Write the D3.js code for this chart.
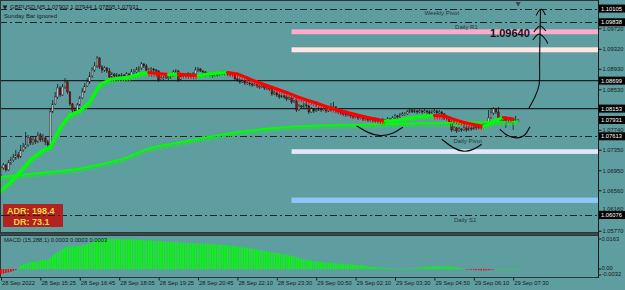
<!DOCTYPE html>
<html>
<head>
<meta charset="utf-8">
<script src="https://cdn.jsdelivr.net/npm/d3@7"></script>
<style>
  body { margin: 0; background: #5f9ea0; }
  svg text { font-family: "Liberation Sans", Arial, sans-serif; }
</style>
</head>
<body>
<script>
// Constants
const width = 625, height = 290;
const plotRight = 598;
const barStep = 2.4625;

// ---- data (GBPUSD M5) ----
const firstOpen = 1.06859;
const closes = [
  1.06996,1.07054,1.06957,1.07093,1.07152,1.07191,1.07249,1.07210,1.07347,1.07405,
  1.07444,1.07581,1.07483,1.07542,1.07503,1.07639,1.07542,1.07581,1.07503,1.07444,
  1.08088,1.08244,1.08380,1.08556,1.08419,1.08575,1.08673,1.08478,1.08244,1.08127,
  1.08107,1.08224,1.08361,1.08478,1.08595,1.08673,1.08790,1.08907,1.08985,1.09141,
  1.08965,1.08907,1.08946,1.08887,1.08770,1.08829,1.08790,1.08809,1.08790,1.08809,
  1.08790,1.08829,1.08770,1.08868,1.08868,1.08907,1.08946,1.09024,1.08985,1.08907,
  1.08907,1.08926,1.08907,1.08887,1.08712,1.08751,1.08751,1.08770,1.08751,1.08790,
  1.08868,1.08887,1.08712,1.08790,1.08809,1.08809,1.08829,1.08809,1.08829,1.08907,
  1.08926,1.08887,1.08868,1.08809,1.08829,1.08809,1.08790,1.08829,1.08809,1.08829,
  1.08848,1.08829,1.08848,1.08829,1.08829,1.08731,1.08712,1.08673,1.08692,1.08653,
  1.08653,1.08634,1.08614,1.08634,1.08595,1.08575,1.08595,1.08556,1.08556,1.08536,
  1.08439,1.08458,1.08419,1.08380,1.08400,1.08380,1.08341,1.08361,1.08283,1.08302,
  1.08127,1.08205,1.08185,1.08224,1.08205,1.08088,1.08146,1.08107,1.08127,1.08146,
  1.08127,1.08146,1.08107,1.08166,1.08127,1.08185,1.08127,1.08088,1.08068,1.08049,
  1.08029,1.08049,1.08010,1.07990,1.08010,1.07971,1.07990,1.07951,1.07971,1.07932,
  1.07951,1.07932,1.07912,1.07932,1.07912,1.07932,1.07912,1.07951,1.07932,1.07971,
  1.08010,1.07990,1.08029,1.08049,1.08049,1.08088,1.08127,1.08088,1.08107,1.08088,
  1.08107,1.08088,1.08107,1.08088,1.08068,1.08088,1.08107,1.08068,1.08088,1.08049,
  1.07971,1.07990,1.07893,1.07737,1.07776,1.07717,1.07756,1.07737,1.07776,1.07737,
  1.07776,1.07756,1.07795,1.07776,1.07815,1.07795,1.07834,1.07854,1.07971,1.08068,
  1.08146,1.08088,1.07971,1.07912,1.07951,1.07893,1.07912,1.07951,1.07912,1.07902,
  1.07931
];
const highs = [
  1.07035,1.07093,1.07074,1.07152,1.07210,1.07269,1.07347,1.07308,1.07444,1.07483,
  1.07698,1.07639,1.07620,1.07620,1.07600,1.07698,1.07678,1.07659,1.07600,1.07542,
  1.08166,1.08322,1.08478,1.08634,1.08595,1.08634,1.08751,1.08712,1.08497,1.08263,
  1.08185,1.08263,1.08400,1.08556,1.08653,1.08751,1.08868,1.08965,1.09063,1.09180,
  1.09160,1.09004,1.08985,1.08965,1.08946,1.08868,1.08848,1.08848,1.08829,1.08848,
  1.08829,1.08868,1.08848,1.08926,1.08926,1.08965,1.08985,1.09063,1.09043,1.09024,
  1.08946,1.08965,1.08946,1.08926,1.08907,1.08790,1.08790,1.08809,1.08790,1.08829,
  1.08907,1.08926,1.08907,1.08829,1.08848,1.08848,1.08868,1.08848,1.08868,1.08965,
  1.08965,1.08946,1.08907,1.08887,1.08868,1.08848,1.08829,1.08868,1.08848,1.08868,
  1.08887,1.08868,1.08887,1.08868,1.08868,1.08848,1.08751,1.08731,1.08712,1.08692,
  1.08673,1.08673,1.08653,1.08653,1.08634,1.08614,1.08614,1.08595,1.08575,1.08575,
  1.08556,1.08497,1.08478,1.08439,1.08419,1.08419,1.08400,1.08380,1.08380,1.08322,
  1.08322,1.08244,1.08224,1.08263,1.08244,1.08224,1.08185,1.08166,1.08166,1.08185,
  1.08166,1.08185,1.08166,1.08205,1.08263,1.08283,1.08205,1.08146,1.08107,1.08088,
  1.08068,1.08088,1.08068,1.08029,1.08049,1.08010,1.08029,1.07990,1.08010,1.07971,
  1.07990,1.07971,1.07951,1.07971,1.07951,1.07971,1.07951,1.07990,1.07971,1.08010,
  1.08049,1.08029,1.08068,1.08088,1.08088,1.08127,1.08166,1.08146,1.08146,1.08127,
  1.08146,1.08127,1.08146,1.08127,1.08127,1.08127,1.08146,1.08127,1.08127,1.08107,
  1.08068,1.08029,1.08010,1.07912,1.07815,1.07795,1.07795,1.07776,1.07815,1.07795,
  1.07815,1.07795,1.07834,1.07815,1.07854,1.07834,1.07873,1.07893,1.08127,1.08166,
  1.08185,1.08166,1.08185,1.07990,1.07990,1.07971,1.07951,1.07990,1.07971,1.08010,
  1.07944
];
const lows = [
  1.06800,1.06957,1.06918,1.06937,1.07054,1.07113,1.07152,1.07171,1.07191,1.07308,
  1.07366,1.07405,1.07444,1.07444,1.07464,1.07483,1.07503,1.07503,1.07444,1.07386,
  1.07405,1.08068,1.08224,1.08341,1.08380,1.08400,1.08536,1.08439,1.08205,1.08068,
  1.08068,1.08088,1.08205,1.08341,1.08458,1.08575,1.08634,1.08751,1.08868,1.08946,
  1.08926,1.08848,1.08868,1.08848,1.08731,1.08751,1.08751,1.08770,1.08751,1.08770,
  1.08731,1.08751,1.08731,1.08751,1.08829,1.08829,1.08868,1.08907,1.08946,1.08868,
  1.08868,1.08868,1.08868,1.08848,1.08673,1.08692,1.08712,1.08731,1.08712,1.08731,
  1.08770,1.08848,1.08673,1.08692,1.08770,1.08770,1.08790,1.08770,1.08790,1.08809,
  1.08868,1.08868,1.08829,1.08770,1.08790,1.08770,1.08751,1.08770,1.08770,1.08790,
  1.08809,1.08790,1.08809,1.08790,1.08790,1.08692,1.08673,1.08634,1.08653,1.08614,
  1.08614,1.08595,1.08575,1.08595,1.08556,1.08536,1.08556,1.08517,1.08517,1.08497,
  1.08400,1.08419,1.08380,1.08341,1.08361,1.08341,1.08302,1.08322,1.08244,1.08263,
  1.08088,1.08107,1.08146,1.08166,1.08166,1.08049,1.08068,1.08068,1.08088,1.08107,
  1.08088,1.08107,1.08068,1.08088,1.08107,1.08107,1.08088,1.08049,1.08029,1.08010,
  1.07990,1.08010,1.07971,1.07951,1.07971,1.07932,1.07951,1.07912,1.07932,1.07893,
  1.07912,1.07893,1.07893,1.07893,1.07893,1.07893,1.07893,1.07912,1.07912,1.07912,
  1.07951,1.07951,1.07971,1.08010,1.08010,1.08029,1.08068,1.08068,1.08068,1.08049,
  1.08068,1.08049,1.08068,1.08049,1.08029,1.08049,1.08068,1.08029,1.08049,1.08010,
  1.07932,1.07932,1.07854,1.07698,1.07717,1.07678,1.07698,1.07698,1.07717,1.07698,
  1.07717,1.07717,1.07737,1.07737,1.07756,1.07756,1.07776,1.07815,1.07834,1.07951,
  1.08029,1.08049,1.07932,1.07873,1.07893,1.07776,1.07873,1.07893,1.07737,1.07893,
  1.07895
];

// moving averages, sampled every few bars
const fastStep = 4;
const fastMa = [
  1.06567,1.06723,1.06937,1.07152,1.07308,1.07405,1.07776,1.08029,1.08107,1.08283,
  1.08614,1.08722,1.08745,1.08770,1.08829,1.08858,1.08839,1.08819,1.08829,1.08809,
  1.08800,1.08829,1.08848,1.08858,1.08829,1.08751,1.08673,1.08605,1.08536,1.08468,
  1.08390,1.08322,1.08263,1.08195,1.08137,1.08088,1.08039,1.07990,1.07951,1.07912,
  1.07922,1.07951,1.07990,1.08010,1.08020,1.08010,1.07942,1.07883,1.07844,1.07805,
  1.07912,1.07981,1.07951
];
const slowStep = 10;
const slowMa = [
  1.06820,1.06869,1.06918,1.06967,1.07064,1.07181,1.07372,1.07474,1.07561,1.07649,
  1.07717,1.07770,1.07805,1.07825,1.07834,1.07844,1.07854,1.07868,1.07873,1.07883,
  1.07893,1.07903
];

// MACD histogram, one value per bar
const macd = [
  -0.0026,-0.0024,-0.0021,-0.0018,-0.0015,-0.0010,-0.0005,0.0008,0.0018,0.0024,
  0.0029,0.0034,0.0036,0.0040,0.0042,0.0045,0.0047,0.0048,0.0049,0.0050,
  0.0062,0.0073,0.0082,0.0092,0.0098,0.0108,0.0116,0.0120,0.0122,0.0122,
  0.0123,0.0125,0.0127,0.0129,0.0131,0.0135,0.0140,0.0147,0.0152,0.0157,
  0.0160,0.0162,0.0163,0.0163,0.0163,0.0163,0.0163,0.0162,0.0163,0.0163,
  0.0162,0.0162,0.0162,0.0161,0.0160,0.0159,0.0158,0.0158,0.0157,0.0156,
  0.0155,0.0154,0.0154,0.0153,0.0152,0.0151,0.0150,0.0150,0.0149,0.0148,
  0.0147,0.0146,0.0145,0.0144,0.0143,0.0142,0.0142,0.0141,0.0140,0.0140,
  0.0139,0.0139,0.0138,0.0138,0.0137,0.0136,0.0135,0.0134,0.0133,0.0132,
  0.0131,0.0130,0.0129,0.0128,0.0127,0.0125,0.0123,0.0121,0.0119,0.0117,
  0.0115,0.0113,0.0111,0.0109,0.0106,0.0104,0.0101,0.0098,0.0096,0.0094,
  0.0091,0.0089,0.0087,0.0085,0.0083,0.0080,0.0078,0.0075,0.0072,0.0069,
  0.0064,0.0060,0.0056,0.0053,0.0051,0.0049,0.0046,0.0044,0.0042,0.0040,
  0.0038,0.0037,0.0035,0.0034,0.0033,0.0032,0.0031,0.0030,0.0029,0.0028,
  0.0027,0.0026,0.0025,0.0024,0.0023,0.0022,0.0021,0.0020,0.0018,0.0016,
  0.0014,0.0012,0.0011,0.0010,0.0009,0.0008,0.0007,0.0006,0.0005,0.0004,
  0.0004,0.0003,0.0003,0.0003,0.0003,0.0003,0.0004,0.0004,0.0005,0.0007,
  0.0009,0.0011,0.0012,0.0013,0.0014,0.0014,0.0015,0.0016,0.0016,0.0017,
  0.0016,0.0016,0.0015,0.0013,0.0011,0.0009,0.0007,0.0005,0.0002,-0.0001,
  -0.0003,-0.0004,-0.0005,-0.0006,-0.0006,-0.0007,-0.0007,-0.0007,-0.0006,-0.0004,
  -0.0002,0.0001,0.0001,0.0001,0.0001,0.0001,0.0001,0.0001,0.0001,0.0001,
  0.0001
];

// axes
const timeTicks = [0,16,32,48,64,80,96,112,128,144,160,176,192,208];
const timeLabels = ["28 Sep 2022","28 Sep 15:25","28 Sep 16:45","28 Sep 18:05","28 Sep 19:25",
  "28 Sep 20:45","28 Sep 22:10","28 Sep 23:30","29 Sep 00:50","29 Sep 02:10","29 Sep 03:30",
  "29 Sep 04:50","29 Sep 06:10","29 Sep 07:30"];
const priceTicks = [1.09720,1.09320,1.08930,1.08530,1.07740,1.07350,1.06950,1.06560,1.06160,1.05770];
const markedPrices = [1.10105,1.09838,1.08699,1.08153,1.07931,1.07613,1.06076];
const macdTicks = [0.0163, 0, -0.0032];
const macdTickLabels = ["0.0163", "0.00", "-0.0032"];

// levels
const dashDotLevels = [1.10105,1.09838,1.07613,1.06076];
const levelNames = ["Weekly Pivot","Daily R1","Daily Pivot","Daily S1"];
const solidLevels = [1.08699,1.08153];
const lastPrice = 1.07931;
const bandLow  = [1.09605,1.09252,1.07269,1.06313];
const bandHigh = [1.09700,1.09349,1.07360,1.06417];
const bandStartBar = 118;

// hand drawn marks, as [bar, price]
const smile1 = [[144.4,1.07815],[149.0,1.07678],[153.9,1.07606],[159.2,1.07659],[163.2,1.07790]];
const smile2 = [[179.0,1.07556],[183.6,1.07380],[187.7,1.07302],[191.8,1.07347],[195.2,1.07458]];
const smile3 = [[202.6,1.07751],[205.4,1.07620],[209.4,1.07567],[212.8,1.07606],[214.8,1.07801]];
const arrowShaft = [[214.4,1.08166],[216.8,1.08380],[218.5,1.08614],[218.7,1.09102],[218.9,1.09589],[219.1,1.10077]];
const arrowHead = [[217.3,1.09970],[219.3,1.10096],[221.1,1.09979]];
const caret1 = [[216.4,1.09648],[218.9,1.09765],[221.3,1.09667]];
const caret2 = [[216.0,1.09492],[218.5,1.09609],[221.3,1.09492],[222.0,1.09420]];
const targetLabel = "1.09640";

// scales
const x = d3.scaleLinear().domain([0, 240]).range([1, 1 + 240 * barStep]);
const y = d3.scaleLinear().domain([1.05745, 1.10214]).range([232, 3]);
const yMacd = d3.scaleLinear().domain([-0.0032, 0.0163]).range([275, 239]);

const lime = "#00ff00", red = "#ff0000";

// Create an SVG
var svg = d3.select("body")
  .append("svg")
  .attr("width", width)
  .attr("height", height);

svg.append("rect").attr("width", width).attr("height", height).attr("fill", "#5f9ea0");

svg.append("clipPath").attr("id", "mainClip")
  .append("rect").attr("x", 0).attr("y", 1).attr("width", plotRight).attr("height", 231);

let plot = svg.append("g").attr("clip-path", "url(#mainClip)");

// colour bands
plot.selectAll("rect.band")
  .data(bandLow)
  .enter()
  .append("rect")
  .attr("x", x(bandStartBar))
  .attr("width", plotRight - x(bandStartBar))
  .attr("y", (d, i) => y(bandHigh[i]))
  .attr("height", (d, i) => y(d) - y(bandHigh[i]))
  .attr("fill", (d, i) => ["#ffaacb", "#ffe5e3", "#e6e6fa", "#8fc8f8"][i]);

// level lines
plot.selectAll("line.dd")
  .data(dashDotLevels)
  .enter()
  .append("line")
  .attr("x1", 0).attr("x2", plotRight)
  .attr("y1", d => Math.round(y(d)) + 0.5).attr("y2", d => Math.round(y(d)) + 0.5)
  .attr("stroke", "#1c2424").attr("stroke-width", 1)
  .attr("stroke-dasharray", "7,3,2,3");

plot.selectAll("line.solid")
  .data(solidLevels)
  .enter()
  .append("line")
  .attr("x1", 0).attr("x2", plotRight)
  .attr("y1", d => y(d)).attr("y2", d => y(d))
  .attr("stroke", "#182020").attr("stroke-width", 1.3);

plot.append("line")
  .attr("x1", 0).attr("x2", plotRight)
  .attr("y1", y(lastPrice)).attr("y2", y(lastPrice))
  .attr("stroke", "#7a9292").attr("stroke-width", 1);

// candles
const candles = closes.map((c, i) => ({
  i: i, o: i === 0 ? firstOpen : closes[i - 1], h: highs[i], l: lows[i], c: c
}));

let cg = plot.append("g");
cg.selectAll("line")
  .data(candles)
  .enter()
  .append("line")
  .attr("x1", d => x(d.i)).attr("x2", d => x(d.i))
  .attr("y1", d => y(d.h)).attr("y2", d => y(d.l))
  .attr("stroke", "#1a1a1a").attr("stroke-width", 0.8);
cg.selectAll("rect")
  .data(candles)
  .enter()
  .append("rect")
  .attr("x", d => x(d.i) - 0.85)
  .attr("width", 1.7)
  .attr("y", d => y(Math.max(d.o, d.c)))
  .attr("height", d => Math.max(0.8, Math.abs(y(d.o) - y(d.c))))
  .attr("fill", d => d.c >= d.o ? "#b9c1c1" : "#8e0c0c")
  .attr("stroke", "#1a1a1a").attr("stroke-width", 0.4);

// slow MA
const slowPts = slowMa.map((v, k) => [k * slowStep, v]);
const maLine = d3.line().x(d => x(d[0])).y(d => y(d[1])).curve(d3.curveMonotoneX);
plot.append("path").attr("d", maLine(slowPts))
  .attr("fill", "none").attr("stroke", lime).attr("stroke-width", 3.5)
  .attr("stroke-dasharray", "0.9," + (barStep - 0.9))
  .attr("transform", "translate(0,2)");
plot.append("path").attr("d", maLine(slowPts))
  .attr("fill", "none").attr("stroke", lime).attr("stroke-width", 1.8);

// fast MA, green while rising, red while falling
const fastPts = fastMa.map((v, k) => [k * fastStep, v]);
const fastSegs = d3.pairs(fastPts);
const segColor = d => d[1][1] >= d[0][1] ? lime : red;

plot.append("g").selectAll("line")
  .data(fastSegs)
  .enter()
  .append("line")
  .attr("x1", d => x(d[0][0])).attr("y1", d => y(d[0][1]))
  .attr("x2", d => x(d[1][0])).attr("y2", d => y(d[1][1]))
  .attr("stroke", segColor).attr("stroke-width", 4)
  .attr("stroke-dasharray", "0.9," + (barStep - 0.9))
  .attr("transform", "translate(0,2)");
plot.append("g").selectAll("line")
  .data(fastSegs)
  .enter()
  .append("line")
  .attr("x1", d => x(d[0][0])).attr("y1", d => y(d[0][1]))
  .attr("x2", d => x(d[1][0])).attr("y2", d => y(d[1][1]))
  .attr("stroke", segColor).attr("stroke-width", 3)
  .attr("stroke-linecap", "round");

// hand drawn marks
const sketch = d3.line().x(d => x(d[0])).y(d => y(d[1])).curve(d3.curveBasis);
const sketchStraight = d3.line().x(d => x(d[0])).y(d => y(d[1])).curve(d3.curveCatmullRom);
[smile1, smile2, smile3].forEach(pts => {
  plot.append("path").attr("d", sketch(pts))
    .attr("fill", "none").attr("stroke", "#0a0a0a").attr("stroke-width", 1.2);
});
[arrowShaft, arrowHead, caret1, caret2].forEach(pts => {
  plot.append("path").attr("d", sketchStraight(pts))
    .attr("fill", "none").attr("stroke", "#0a0a0a").attr("stroke-width", 1.1);
});

// level names
const labelBars = [179, 189, 189.5, 188.5];
plot.selectAll("text.lvl")
  .data(dashDotLevels)
  .enter()
  .append("text")
  .attr("x", (d, i) => x(labelBars[i]))
  .attr("y", d => y(d) + 6.5)
  .attr("text-anchor", "middle")
  .attr("font-size", 6)
  .attr("fill", "#2a3434")
  .text((d, i) => levelNames[i]);

plot.append("text")
  .attr("x", x(198.6)).attr("y", y(1.0955))
  .attr("font-size", 11).attr("font-weight", "bold")
  .attr("fill", "#111").text(targetLabel);

// shift marker
svg.append("path")
  .attr("d", d3.symbol(d3.symbolTriangle, 12)())
  .attr("transform", "translate(" + x(210) + ",3.5) rotate(180)")
  .attr("fill", "#3c4848");

// title
svg.append("path")
  .attr("d", d3.symbol(d3.symbolTriangle, 10)())
  .attr("transform", "translate(5,7) rotate(180)")
  .attr("fill", "#1a1a1a");
svg.append("text").attr("x", 10).attr("y", 9.3).attr("font-size", 6).attr("fill", "#1a1a1a")
  .text("GBPUSD,M5  1.07902 1.07944 1.07895 1.07931");
svg.append("text").attr("x", 4).attr("y", 18).attr("font-size", 6).attr("fill", "#1a1a1a")
  .text("Sunday Bar ignored");

// ADR box
svg.append("rect").attr("x", 3).attr("y", 204).attr("width", 60).attr("height", 23)
  .attr("fill", "#b3221f");
svg.append("line").attr("x1", 3).attr("x2", 63)
  .attr("y1", Math.round(y(1.06076)) + 0.5).attr("y2", Math.round(y(1.06076)) + 0.5)
  .attr("stroke", "#1c2424").attr("stroke-dasharray", "7,3,2,3");
svg.append("text").attr("x", 7).attr("y", 214).attr("font-size", 9).attr("font-weight", "bold")
  .attr("fill", "#f2d34a").text("ADR: 198.4");
svg.append("text").attr("x", 13.5).attr("y", 225).attr("font-size", 9).attr("font-weight", "bold")
  .attr("fill", "#f2d34a").text("DR: 73.1");

// MACD window
svg.append("rect").attr("x", 0).attr("y", 232.5).attr("width", plotRight).attr("height", 2.5)
  .attr("fill", "#3a4848");
svg.append("rect").attr("x", 0.5).attr("y", 0.5).attr("width", plotRight).attr("height", 232)
  .attr("fill", "none").attr("stroke", "#2c3838");
svg.append("rect").attr("x", 0.5).attr("y", 235.5).attr("width", plotRight).attr("height", 42)
  .attr("fill", "none").attr("stroke", "#2c3838");

svg.append("g").selectAll("rect")
  .data(macd)
  .enter()
  .append("rect")
  .attr("x", (d, i) => x(i) - 0.8)
  .attr("width", 1.6)
  .attr("y", d => Math.min(yMacd(0), yMacd(d)))
  .attr("height", d => Math.max(0.6, Math.abs(yMacd(d) - yMacd(0))))
  .attr("fill", d => d >= 0 ? lime : red);

svg.append("text").attr("x", 4).attr("y", 242).attr("font-size", 5.8).attr("fill", "#1a1a1a")
  .text("MACD (15,288,1) 0.0003 0.0003 0.0003");

// price axis
var yAxis = d3.axisRight(y).tickValues(priceTicks).tickSize(3).tickPadding(1)
  .tickFormat(d3.format(".5f"));
let ya = svg.append("g").attr("transform", "translate(" + (plotRight + 0.5) + ",0)").call(yAxis);
ya.select(".domain").remove();
ya.selectAll("line").attr("stroke", "#1a1a1a");
ya.selectAll("text").attr("font-size", 5.8).attr("fill", "#1a1a1a")
  .attr("font-family", "Liberation Sans, Arial, sans-serif")
  .attr("dy", d => d === 1.06160 ? "-0.05em" : "0.32em");

let marks = svg.append("g").selectAll("g")
  .data(markedPrices)
  .enter()
  .append("g")
  .attr("transform", d => "translate(0," + y(d) + ")");
marks.append("rect").attr("x", plotRight + 1).attr("y", -4).attr("width", 26).attr("height", 8)
  .attr("fill", "#000");
marks.append("text").attr("x", plotRight + 3).attr("y", 2.1).attr("font-size", 5.8)
  .attr("fill", "#fff").text(d => d3.format(".5f")(d));

// MACD axis
const macdLabelShift = [2, 1, 1];
svg.append("g").selectAll("line")
  .data(macdTicks)
  .enter()
  .append("line")
  .attr("x1", plotRight).attr("x2", plotRight + 3)
  .attr("y1", d => yMacd(d)).attr("y2", d => yMacd(d))
  .attr("stroke", "#1a1a1a");
svg.append("g").selectAll("text")
  .data(macdTicks)
  .enter()
  .append("text")
  .attr("x", plotRight + 3.5)
  .attr("y", (d, i) => yMacd(d) + macdLabelShift[i])
  .attr("font-size", 5.8).attr("fill", "#1a1a1a")
  .text((d, i) => macdTickLabels[i]);

svg.append("line").attr("x1", plotRight + 0.5).attr("x2", plotRight + 0.5)
  .attr("y1", 0).attr("y2", 278).attr("stroke", "#1a1a1a");

// time axis
var xAxis = d3.axisBottom(x).tickValues(timeTicks).tickSize(3)
  .tickFormat((d, i) => timeLabels[i]);
let xa = svg.append("g").attr("transform", "translate(0,277.5)").call(xAxis);
xa.select(".domain").remove();
xa.selectAll("line").attr("stroke", "#1a1a1a");
xa.selectAll("text").attr("font-size", 5.8).attr("fill", "#1a1a1a")
  .attr("text-anchor", "start").attr("x", 0.5).attr("y", 3.5)
  .attr("font-family", "Liberation Sans, Arial, sans-serif");
</script>
</body>
</html>
